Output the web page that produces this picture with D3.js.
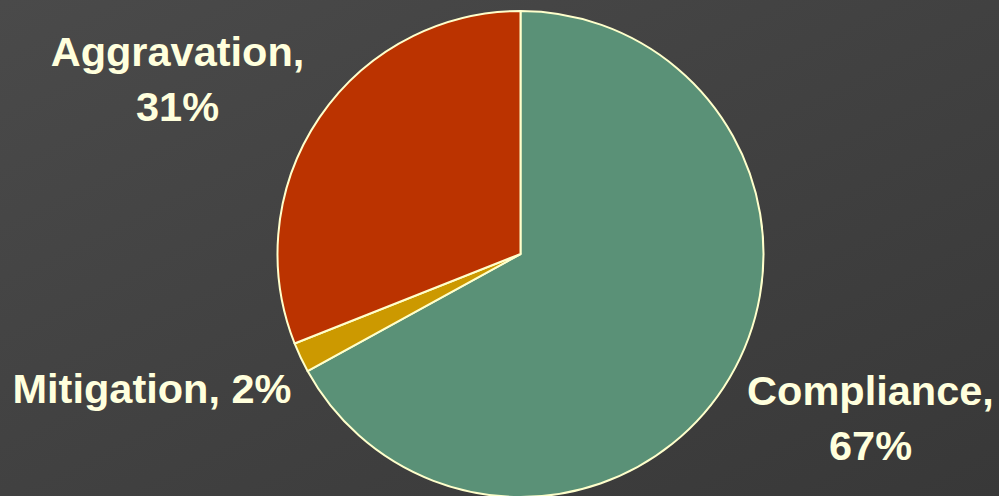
<!DOCTYPE html>
<html><head><meta charset="utf-8">
<script src="https://cdn.jsdelivr.net/npm/d3@7"></script>
<style>html,body{margin:0;padding:0;overflow:hidden;}</style>
</head><body>
<script>
const categories = ["Compliance", "Mitigation", "Aggravation"];
const values = [67, 2, 31];
const colors = ["#5a9177", "#cc9900", "#bb3300"];
const labelLines = [["Compliance,", "67%"], ["Mitigation, 2%"], ["Aggravation,", "31%"]];

const W = 999, H = 496;
const svg = d3.select("body").append("svg").attr("width", W).attr("height", H);
const defs = svg.append("defs");
const g = defs.append("linearGradient").attr("id", "bg").attr("x1", "0").attr("y1", "0").attr("x2", "1").attr("y2", "1");
g.append("stop").attr("offset", "0").attr("stop-color", "#4a4a4a");
g.append("stop").attr("offset", "1").attr("stop-color", "#383838");
svg.append("rect").attr("width", W).attr("height", H).attr("fill", "url(#bg)");

const cx = 520.5, cy = 254, r = 243;
const pie = d3.pie().sort(null).value(d => d)(values);
const arc = d3.arc().innerRadius(0).outerRadius(r);
const pg = svg.append("g").attr("transform", `translate(${cx},${cy})`);
pg.selectAll("path").data(pie).join("path")
  .attr("d", arc).attr("fill", (d, i) => colors[i])
  .attr("stroke", "#ffffcc").attr("stroke-width", 2).attr("stroke-linejoin", "round");

const labelPos = [[870.5, 405], [152, 403], [177.5, 66]];
const lh = 55;
labelLines.forEach((lines, i) => {
  const t = svg.append("text").attr("text-anchor", "middle")
    .attr("font-family", "Liberation Sans, Arial, sans-serif").attr("font-weight", "bold")
    .attr("font-size", 41.5).attr("fill", "#ffffdd");
  lines.forEach((s, j) => {
    t.append("tspan").attr("x", labelPos[i][0]).attr("y", labelPos[i][1] + j * lh).text(s);
  });
});
</script>
</body></html>
